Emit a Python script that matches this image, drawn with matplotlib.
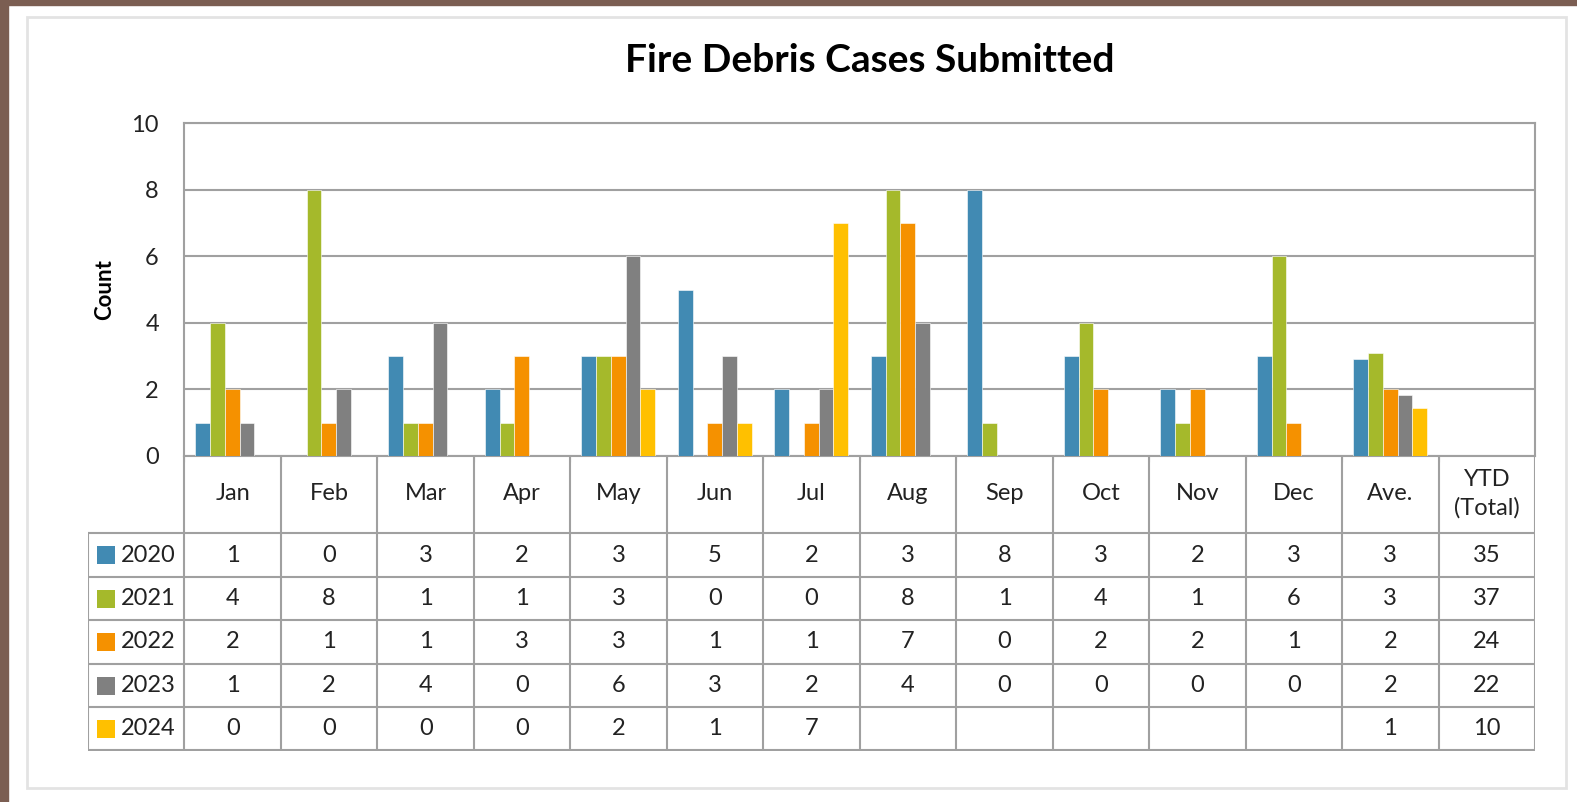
import matplotlib
matplotlib.use('Agg')
import matplotlib.pyplot as plt
import numpy as np

plt.rcParams['font.family'] = ['Lato', 'DejaVu Sans']

months = ['Jan', 'Feb', 'Mar', 'Apr', 'May', 'Jun', 'Jul', 'Aug', 'Sep',
          'Oct', 'Nov', 'Dec', 'Ave.', 'YTD\n(Total)']
years = ['2020', '2021', '2022', '2023', '2024']
colors = ['#418AB3', '#A5B92B', '#F59100', '#808080', '#FFC000']

# monthly counts (None = not yet reported)
c2020 = [1, 0, 3, 2, 3, 5, 2, 3, 8, 3, 2, 3]
c2021 = [4, 8, 1, 1, 3, 0, 0, 8, 1, 4, 1, 6]
c2022 = [2, 1, 1, 3, 3, 1, 1, 7, 0, 2, 2, 1]
c2023 = [1, 2, 4, 0, 6, 3, 2, 4, 0, 0, 0, 0]
c2024 = [0, 0, 0, 0, 2, 1, 7, None, None, None, None, None]
# averages (bar heights) and totals
ave_bar = [2.92, 3.08, 2.0, 1.83, 1.43]
ave_txt = ['3', '3', '2', '2', '1']
ytd = ['35', '37', '24', '22', '10']

series = [c2020, c2021, c2022, c2023, c2024]

W, H = 1577, 802
fig = plt.figure(figsize=(W / 100, H / 100), dpi=100)
fig.patch.set_facecolor('white')

# brown frame on left/top and light inner border
fig.patches.append(plt.Rectangle((0, 0), 8 / W, 1, transform=fig.transFigure,
                                 color='#7B5E52', zorder=0))
fig.patches.append(plt.Rectangle((0, 1 - 5 / H), 1, 5 / H, transform=fig.transFigure,
                                 color='#7B5E52', zorder=0))
fig.patches.append(plt.Rectangle((27 / W, 1 - 788 / H), (1566 - 27) / W, (788 - 17) / H,
                                 transform=fig.transFigure, fill=False,
                                 edgecolor='#E3E3E3', lw=2, zorder=1))


def fx(px):
    return px / W


def fy(py):
    return 1 - py / H


grid_col = '#A0A0A0'
txt_col = '#222222'
fs = 17

# bar axes
ax = fig.add_axes([fx(184), fy(456), fx(1535) - fx(184), fy(123) - fy(456)])
bw = 0.153
for i, (s, c) in enumerate(zip(series, colors)):
    vals = [np.nan if v is None else v for v in s] + [ave_bar[i]]
    x = np.arange(13) + (i - 2) * bw
    ax.bar(x, vals, width=bw, color=c, edgecolor='white', lw=0.4, zorder=3)
ax.set_xlim(-0.5, 13.5)
ax.set_ylim(0, 10)
ax.set_yticks(range(0, 11, 2))
ax.tick_params(axis='y', length=0, labelsize=fs, pad=18, labelcolor=txt_col)
ax.set_xticks(np.arange(-0.5, 13.5, 1))
ax.tick_params(axis='x', length=4, color=grid_col, labelbottom=False)
ax.yaxis.grid(True, color=grid_col, lw=1.5, zorder=0)
for sp in ax.spines.values():
    sp.set_color(grid_col)
    sp.set_linewidth(1.5)
ax.set_ylabel('Count', fontsize=16, fontweight='bold', labelpad=12)

fig.text(fx(870), fy(60), 'Fire Debris Cases Submitted', ha='center', va='center',
         fontsize=28, fontweight='bold', color='black')

# data table
tab = fig.add_axes([fx(88), fy(751), fx(1535) - fx(88), fy(456) - fy(751)])
tab.set_xlim(-1.5, 13.5)
tab.set_ylim(751, 456)
tab.axis('off')
row_y = [533, 577, 620, 664, 707, 750]
lk = dict(color=grid_col, lw=1.5, solid_capstyle='projecting')
# horizontal lines
for yy in row_y:
    tab.plot([-1.5, 13.5], [yy, yy], **lk)
# vertical lines
tab.plot([-1.5, -1.5], [533, 750], **lk)
for xx in np.arange(-0.5, 14.0, 1):
    tab.plot([xx, xx], [456, 750], **lk)

for j, m in enumerate(months):
    tab.text(j, 494, m, ha='center', va='center', fontsize=fs, color=txt_col,
             linespacing=1.4)

for i, yr in enumerate(years):
    yc = (row_y[i] + row_y[i + 1]) / 2
    tab.add_patch(plt.Rectangle((-1.41, yc - 9), 0.19, 18, color=colors[i], lw=0))
    tab.text(-1.16, yc, yr, ha='left', va='center', fontsize=fs, color=txt_col)
    cells = ['' if v is None else str(v) for v in series[i]] + [ave_txt[i], ytd[i]]
    for j, t in enumerate(cells):
        tab.text(j, yc, t, ha='center', va='center', fontsize=fs, color=txt_col)

fig.savefig('out.png', dpi=100)
